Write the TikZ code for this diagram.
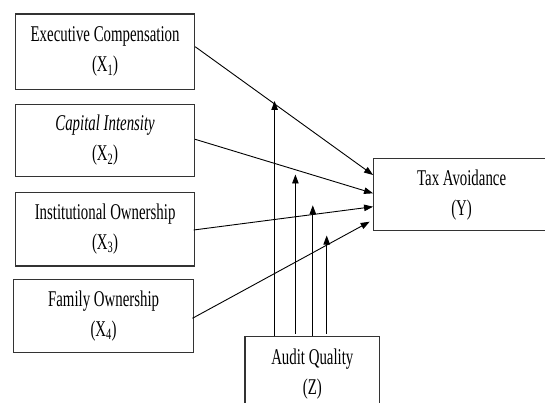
\documentclass[tikz,border=0pt]{standalone}
\usepackage{fontspec}
\setmainfont{Liberation Serif}
\usetikzlibrary{arrows.meta,calc}
\newcommand{\sq}[1]{\scalebox{0.66}[1]{#1}}
\begin{document}
\begin{tikzpicture}[x=1pt,y=-1pt,
  box/.style={draw=black!80, line width=1.1pt, align=center, inner sep=0pt,
              font=\fontsize{22.5}{30}\selectfont},
  conn/.style={line width=0.9pt, -{Triangle[length=9pt,width=6.5pt]}}]
\useasboundingbox (0,0) rectangle (545,403);
\clip (0,0) rectangle (545,403);
% boxes
\node[box, minimum width=179pt, minimum height=75.3pt] (X1) at (105.1,51.7)
  {\sq{Executive Compensation}\\\sq{(X\textsubscript{1})}};
\node[box, minimum width=179pt, minimum height=72.4pt] (X2) at (105.1,140.5)
  {\sq{\itshape Capital Intensity}\\\sq{(X\textsubscript{2})}};
\node[box, minimum width=179pt, minimum height=73.3pt] (X3) at (105.1,229.3)
  {\sq{Institutional Ownership}\\\sq{(X\textsubscript{3})}};
\node[box, minimum width=179.4pt, minimum height=73pt] (X4) at (103.6,315.8)
  {\sq{Family Ownership}\\\sq{(X\textsubscript{4})}};
\node[box, minimum width=176pt, minimum height=71.7pt] (Y) at (461.6,194.8)
  {\sq{Tax Avoidance}\\\sq{(Y)}};
\node[box, minimum width=134.6pt, minimum height=74.7pt] (Z) at (312.3,374)
  {\sq{Audit Quality}\\\sq{(Z)}};
% independent variables to Y
\draw[conn] ([yshift=5pt]X1.east) -- ([yshift=19.8pt]Y.west);
\draw[conn] ([yshift=1.2pt]X2.east) -- ([yshift=1.5pt]Y.west);
\draw[conn] ([xshift=-1.5pt,yshift=-0.7pt]X3.east) -- ([yshift=-11.9pt]Y.west);
\draw[conn] ([xshift=-1.4pt,yshift=-2.5pt]X4.east) -- ([xshift=-3.4pt,yshift=-26.9pt]Y.west);
% moderating arrows from Z
\coordinate (t1) at (274.6,101);
\coordinate (t2) at (295.4,174.5);
\coordinate (t3) at (312.8,205.3);
\coordinate (t4) at (326.7,235.5);
\draw[conn] (Z.north -| t1) -- (t1);
\draw[conn] ($(Z.north -| t2)+(0,-2.4)$) -- (t2);
\draw[conn] (Z.north -| t3) -- (t3);
\draw[conn] ($(Z.north -| t4)+(0,-2.4)$) -- (t4);
\end{tikzpicture}
\end{document}
